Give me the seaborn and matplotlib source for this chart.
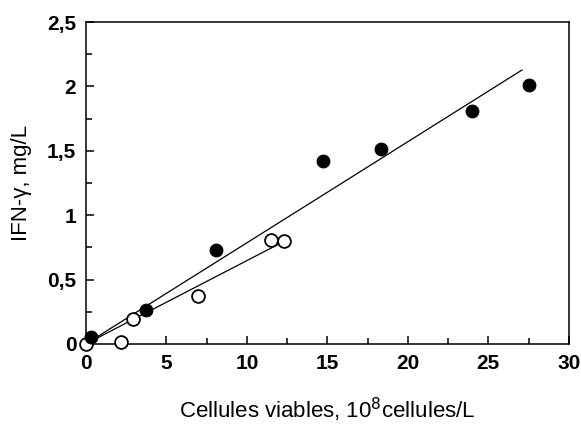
import seaborn as sns
import matplotlib.pyplot as plt
import numpy as np
from matplotlib.ticker import MultipleLocator, FuncFormatter

# points
x_plein = [0.3, 3.7, 8.1, 14.7, 18.3, 24.0, 27.5]
y_plein = [0.05, 0.26, 0.73, 1.42, 1.51, 1.81, 2.01]
x_vide = [0.0, 2.2, 2.9, 6.95, 11.5, 12.3]
y_vide = [0.0, 0.015, 0.195, 0.37, 0.81, 0.80]
# extent of each fitted line
fin_plein = 27.1
fin_vide = 12.2

sns.set_style("ticks", {'text.color': 'k', 'axes.labelcolor': 'k',
                        'xtick.color': 'k', 'ytick.color': 'k', 'axes.edgecolor': 'k'})
plt.rcParams['font.family'] = ['Liberation Sans', 'DejaVu Sans']


def pente(x, y):
    x = np.asarray(x); y = np.asarray(y)
    return (x * y).sum() / (x * x).sum()


f = plt.figure(figsize=(5.81, 4.24), dpi=100)
f1 = f.add_axes([0.148, 0.189, 0.831, 0.759])

for xs, ys, fin in [(x_plein, y_plein, fin_plein), (x_vide, y_vide, fin_vide)]:
    lx = np.array([0.0, fin])
    sns.lineplot(x=lx, y=pente(xs, ys) * lx, color='k', lw=0.9, ax=f1)

sns.scatterplot(x=x_vide, y=y_vide, s=85, facecolor='white', edgecolor='k',
                linewidth=1.3, ax=f1, zorder=3, clip_on=False)
sns.scatterplot(x=x_plein, y=y_plein, s=85, color='k', edgecolor='k',
                ax=f1, zorder=4, clip_on=False)

f1.set_xlim(0, 30)
f1.set_ylim(0, 2.5)
f1.xaxis.set_major_locator(MultipleLocator(5))
f1.xaxis.set_minor_locator(MultipleLocator(2.5))
f1.yaxis.set_major_locator(MultipleLocator(0.5))
f1.yaxis.set_minor_locator(MultipleLocator(0.25))
f1.yaxis.set_major_formatter(FuncFormatter(lambda v, p: ('%g' % v).replace('.', ',')))
f1.tick_params(which='both', direction='in', width=1.1, top=False, right=False, colors='k')
f1.tick_params(which='major', length=6, labelsize=15, pad=7)
f1.tick_params(which='minor', length=4)
for t in f1.get_xticklabels() + f1.get_yticklabels():
    t.set_fontweight('bold')
for s in f1.spines.values():
    s.set_linewidth(1.1)
    s.set_visible(True)
    s.set_color('k')

f1.set_xlabel('Cellules viables, 10$^{8}$cellules/L', fontsize=16, labelpad=17, color='k')
f1.set_ylabel('IFN-γ, mg/L', fontsize=16, labelpad=11, color='k')

f.savefig('out.png', dpi=100)
